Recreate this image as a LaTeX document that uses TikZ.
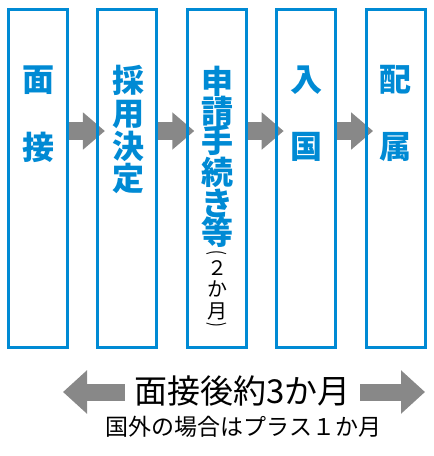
\documentclass[tikz,border=0pt]{standalone}
\usepackage{fontspec}
\setmainfont{Noto Sans CJK JP}
\usetikzlibrary{arrows.meta,backgrounds}
\definecolor{boxblue}{RGB}{0,138,212}
\definecolor{arrgray}{RGB}{136,136,136}
\begin{document}
\begin{tikzpicture}[x=1pt,y=-1pt,
  stepbox/.style={draw=boxblue,line width=3pt,minimum width=59pt,minimum height=337.8pt,inner sep=0pt},
  bluechar/.style={text=boxblue,font=\fontsize{32}{32}\selectfont\bfseries,inner sep=0pt},
  smallchar/.style={text=black,font=\fontsize{20}{20}\selectfont,inner sep=0pt},
  parenchar/.style={text=black,font=\fontsize{20}{20}\selectfont\addfontfeatures{FakeStretch=0.7},inner sep=0pt,rotate=-90},
  flowarrow/.style={draw=arrgray,line width=18pt,-{Triangle[length=22pt,width=36pt]},shorten >=-8.5pt},
  bigarrow/.style={draw=arrgray,line width=17pt,-{Triangle[length=24pt,width=42pt]}},
  maintext/.style={text=black,font=\fontsize{33}{33}\selectfont,inner sep=0pt},
  subtext/.style={text=black,font=\fontsize{23}{23}\selectfont,inner sep=0pt},
]
\useasboundingbox (0,0) rectangle (434,456);
% boxes
\node[stepbox] (b1) at (38,178.6) {};
\node[stepbox] (b2) at (127.4,178.6) {};
\node[stepbox] (b3) at (216.8,178.6) {};
\node[stepbox] (b4) at (306.2,178.6) {};
\node[stepbox] (b5) at (395.6,178.6) {};
% arrows behind boxes
\coordinate (ay) at (0,131);
\begin{pgfonlayer}{background}
\draw[flowarrow] (b1.east |- ay) -- (b2.west |- ay);
\draw[flowarrow] (b2.east |- ay) -- (b3.west |- ay);
\draw[flowarrow] (b3.east |- ay) -- (b4.west |- ay);
\draw[flowarrow] (b4.east |- ay) -- (b5.west |- ay);
\end{pgfonlayer}
% texts
\node[bluechar] (c1-1) at (38,80) {面};
\node[bluechar] (c1-2) at (38,147) {接};
\foreach \c/\y [count=\i] in {採/80,用/114,決/146,定/178}
  \node[bluechar] (c2-\i) at (128,\y) {\c};
\foreach \c/\y [count=\i] in {申/81,請/111,手/140,続/172,き/203,等/232}
  \node[bluechar] (c3-\i) at (217.5,\y) {\c};
\node[parenchar] (p3-0) at (217,253) {(};
\foreach \c/\y [count=\i] in {２/268,か/289,月/311}
  \node[smallchar] (p3-\i) at (217,\y) {\c};
\node[parenchar] (p3-4) at (217,325) {)};
\node[bluechar] (c4-1) at (306,80) {入};
\node[bluechar] (c4-2) at (306,147) {国};
\node[bluechar] (c5-1) at (395,80) {配};
\node[bluechar] (c5-2) at (395,147) {属};
% bottom
\node[maintext,minimum width=235pt] (tot) at (242.5,391) {面接後約3か月};
\coordinate (lt) at (63,392);
\coordinate (rt) at (425,392);
\draw[bigarrow] (tot.west |- lt) -- (lt);
\draw[bigarrow] (tot.east |- rt) -- (rt);
\node[subtext] (note) at (243.5,427) {国外の場合はプラス１か月};
\end{tikzpicture}
\end{document}
